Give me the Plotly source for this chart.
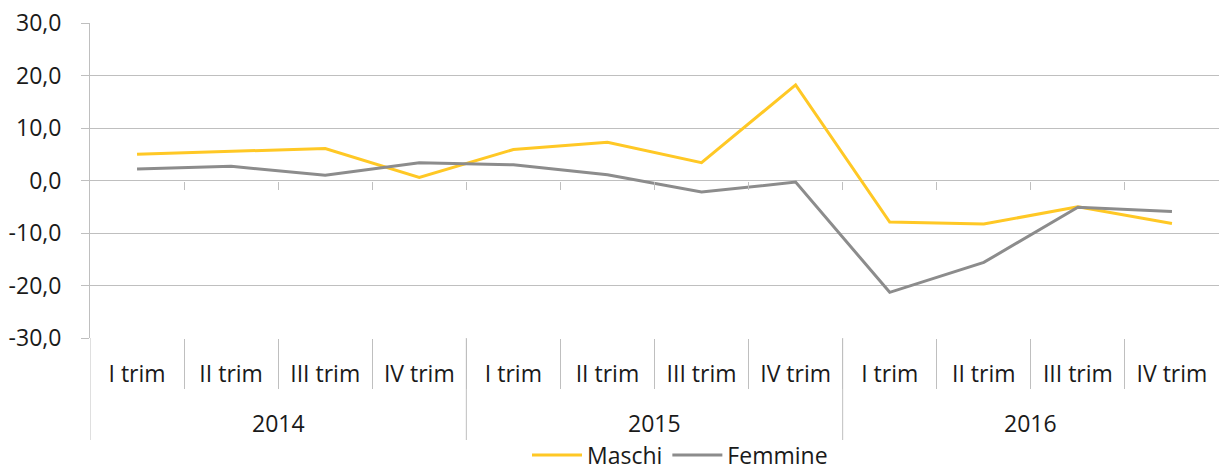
import plotly.graph_objects as go

years = ["2014"] * 4 + ["2015"] * 4 + ["2016"] * 4
quarters = ["I trim", "II trim", "III trim", "IV trim"] * 3
maschi = [5.0, 5.5, 6.1, 0.6, 5.9, 7.3, 3.4, 18.2, -7.9, -8.3, -5.0, -8.2]
femmine = [2.2, 2.7, 1.0, 3.4, 3.0, 1.1, -2.2, -0.3, -21.3, -15.6, -5.1, -5.9]
y_ticks = [-30, -20, -10, 0, 10, 20, 30]

FONT = "Open Sans"
GRID = "#BFBFBF"
TXT = "#1a1a1a"
FS = 23

n = len(quarters)
idx = list(range(n))
xr = [-0.5, n - 0.5]
bounds = [i + 0.5 for i in range(n - 1)]
# year groups
groups = []
for i, yv in enumerate(years):
    if not groups or groups[-1][0] != yv:
        groups.append([yv, i, i])
    else:
        groups[-1][2] = i
year_bounds = [g[1] - 0.5 for g in groups]

# plot area geometry (px)
W, HT = 1224, 468
L, R, T, B = 90, 5, 23, 130
H = HT - T - B

fig = go.Figure()
fig.add_trace(go.Scatter(x=idx, y=maschi, name="Maschi", mode="lines",
                         line=dict(color="#FFC825", width=3)))
fig.add_trace(go.Scatter(x=idx, y=femmine, name="Femmine", mode="lines",
                         line=dict(color="#8C8C8C", width=3)))
for ax in ["x2", "x3"]:
    fig.add_trace(go.Scatter(x=idx, y=maschi, xaxis=ax, mode="lines", opacity=0,
                             line=dict(width=0), showlegend=False, hoverinfo="skip"))

# year labels and dividers
for yv, a, b in groups:
    fig.add_annotation(x=(a + b) / 2, y=-(423 - (T + H)) / H, xref="x", yref="paper",
                       text=yv, showarrow=False, yanchor="middle",
                       font=dict(family=FONT, size=FS, color=TXT))
for xb in year_bounds:
    fig.add_shape(type="line", xref="x", yref="paper", x0=xb, x1=xb,
                  y0=0, y1=-(440 - (T + H)) / H, line=dict(color=GRID, width=1))

fig.update_layout(
    width=W, height=HT,
    margin=dict(l=L, r=R, t=T, b=B, autoexpand=False),
    paper_bgcolor="white", plot_bgcolor="white",
    font=dict(family=FONT, size=FS, color=TXT),
    showlegend=True,
    legend=dict(orientation="h", xref="container", yref="container",
                x=680 / W, xanchor="center",
                y=(HT - 455) / HT, yanchor="middle",
                font=dict(size=FS, color=TXT), itemwidth=50, tracegroupgap=0,
                bgcolor="rgba(0,0,0,0)"),
    xaxis=dict(range=xr, tickvals=idx, ticktext=quarters, ticks="",
               showgrid=False, showline=False, zeroline=False,
               ticklabelstandoff=20, automargin=False,
               tickfont=dict(size=FS, color=TXT)),
    xaxis2=dict(overlaying="x", anchor="free", position=0.5, range=xr,
                tickvals=bounds, showticklabels=False, ticks="outside",
                ticklen=8, tickcolor=GRID, showgrid=False, showline=False,
                zeroline=False),
    xaxis3=dict(overlaying="x", anchor="y", side="bottom", range=xr,
                tickvals=bounds, showticklabels=False, ticks="outside",
                ticklen=50, tickcolor=GRID, showgrid=False, showline=False,
                zeroline=False),
    yaxis=dict(range=[-30, 30], tickvals=y_ticks,
               ticktext=[f"{v:.1f}".replace(".", ",") for v in y_ticks],
               showgrid=True, gridcolor=GRID, gridwidth=1,
               showline=True, linecolor=GRID, linewidth=1,
               ticks="outside", ticklen=8, tickcolor=GRID,
               ticklabelstandoff=15, automargin=False,
               zeroline=False, tickfont=dict(size=FS, color=TXT)),
)

fig.write_html("out.html", config={"displayModeBar": False},
               post_script="document.body.style.margin='0px';document.body.style.overflow='hidden';")
